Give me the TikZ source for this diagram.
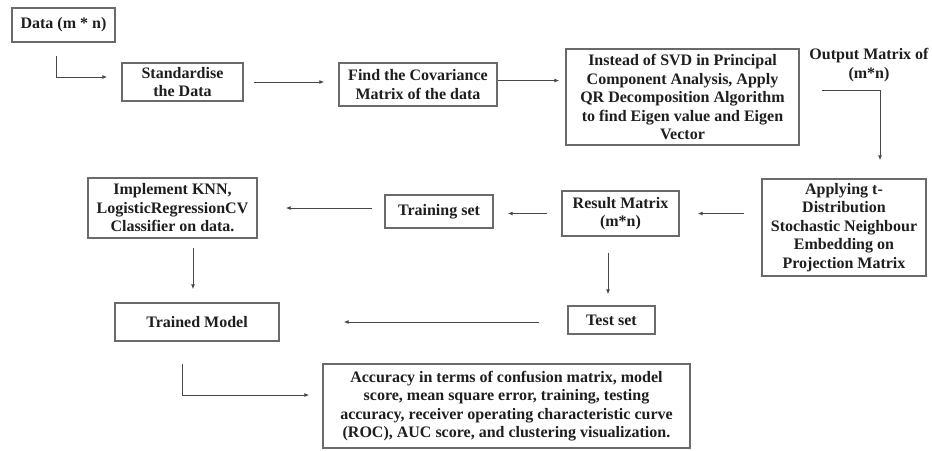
\documentclass[tikz,border=0pt]{standalone}
\usepackage{fontspec}
\setmainfont{Liberation Serif}
\usetikzlibrary{arrows.meta,positioning,calc}
\definecolor{frame}{HTML}{6A6A6A}
\definecolor{wire}{HTML}{474747}
\definecolor{ink}{HTML}{1E1E1E}

\begin{document}
\begin{tikzpicture}[x=1pt,y=-1pt,>={Latex[length=5pt,width=4pt]},
    stage/.style={draw=frame,line width=1.3pt,align=center,inner sep=1pt,
                  text=ink,font=\fontsize{16}{18.5}\selectfont\bfseries},
    flow/.style={->,wire,line width=1pt}]
  \useasboundingbox (0,0) rectangle (932,450);
  % boxes
  \node[stage,minimum width=103pt,minimum height=34pt] (data) at (63.5,25) {Data (m * n)};
  \node[stage,minimum width=121pt,minimum height=38pt] (std) at (182.5,82) {Standardise\\the Data};
  \node[stage,minimum width=158pt,minimum height=43pt] (cov) at (418,84.5) {Find the Covariance\\Matrix of the data};
  \node[stage,minimum width=233pt,minimum height=96pt] (qr) at (682.5,97)
    {Instead of SVD in Principal\\Component Analysis, Apply\\QR Decomposition Algorithm\\to find Eigen value and Eigen\\Vector};
  \node[align=center,text=ink,inner sep=1pt,font=\fontsize{16}{19}\selectfont\bfseries] (out) at (869,65) {Output Matrix of\\(m*n)};
  \coordinate (outtail) at (822,90);
  \node[stage,minimum width=164pt,minimum height=97pt] (tsne) at (844,227.5)
    {Applying t-\\Distribution\\Stochastic Neighbour\\Embedding on\\Projection Matrix};
  \node[stage,minimum width=117pt,minimum height=45pt] (res) at (620.5,213.5) {Result Matrix\\(m*n)};
  \node[stage,minimum width=108pt,minimum height=33pt] (train) at (439,211.5) {Training set};
  \node[stage,minimum width=169pt,minimum height=60pt] (impl) at (172.5,208)
    {Implement KNN,\\LogisticRegressionCV\\Classifier on data.};
  \node[stage,minimum width=164pt,minimum height=38pt] (trained) at (197,322) {Trained Model};
  \node[stage,minimum width=87pt,minimum height=28pt] (test) at (611.5,320) {Test set};
  \node[stage,minimum width=367pt,minimum height=84pt] (acc) at (506.5,406)
    {Accuracy in terms of confusion matrix, model\\score, mean square error, training, testing\\accuracy, receiver operating characteristic curve\\(ROC), AUC score, and clustering visualization.};
  % arrows
  \draw[flow,shorten <=13pt,shorten >=14pt] ($(data.south)+(-7.5,0)$) |- ($(std.west)+(0,-5)$);
  \draw[flow,shorten <=10pt,shorten >=14pt] (std.east) -- (std.east -| cov.west);
  \draw[flow,shorten >=6pt] ($(cov.east)+(0,-4)$) -- ($(cov.east -| qr.west)+(0,-4)$);
  \draw[flow,shorten >=18pt] (outtail) -| ($(tsne.north)+(36,0)$);
  \draw[flow,shorten <=17pt,shorten >=18pt] (res.east -| tsne.west) -- (res.east);
  \draw[flow,shorten <=14pt,shorten >=14pt] (res.west) -- (res.west -| train.east);
  \draw[flow,shorten <=12pt,shorten >=28pt] ($(train.west)+(0,-3.5)$) -- ($(train.west -| impl.east)+(0,-3.5)$);
  \draw[flow,shorten <=9pt,shorten >=13pt] ($(trained.north |- impl.south)+(-4,0)$) -- ($(trained.north)+(-4,0)$);
  \draw[flow,shorten <=16pt,shorten >=11pt] ($(test.north |- res.south)+(-3.5,0)$) -- ($(test.north)+(-3.5,0)$);
  \draw[flow,shorten <=28pt,shorten >=64pt] ($(test.west)+(0,2)$) -- ($(test.west -| trained.east)+(0,2)$);
  \draw[flow,shorten <=22pt,shorten >=13pt] ($(trained.south)+(-15,0)$) |- ($(acc.west)+(0,-11)$);
\end{tikzpicture}
\end{document}
